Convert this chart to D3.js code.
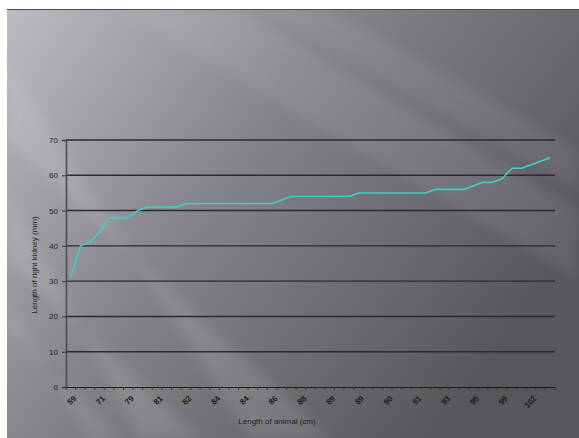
<!DOCTYPE html>
<html><head><meta charset="utf-8">
<script src="https://cdn.jsdelivr.net/npm/d3@7"></script>
<style>html,body{margin:0;padding:0;background:#fff;}svg{display:block;}</style>
</head><body>
<svg id="chart" width="579" height="438"></svg>
<script>
const animalLength = [59,63,68,71,74,77,79,80,80,81,81,82,82,83,83,84,84,84,84,85,85,86,87,87,88,88,88,89,89,89,89,90,90,90,90,91,91,92,92,93,94,94,95,96,97,99,100,101,102,103,105];
const kidneyLength = [31,40,41,44,48,48,48,50,51,51,51,51,52,52,52,52,52,52,52,52,52,52,53,54,54,54,54,54,54,54,55,55,55,55,55,55,55,55,56,56,56,56,57,58,58,59,62,62,63,64,65];
const yTicks = [0,10,20,30,40,50,60,70];
const labelEvery = 3;

(function(){
const svg = d3.select("#chart");
const W = 579, H = 438;
const defs = svg.append("defs");
const g1 = defs.append("linearGradient").attr("id","bg").attr("x1","0").attr("y1","0").attr("x2","1").attr("y2","0.55");
g1.append("stop").attr("offset","0").attr("stop-color","#bdbbc1");
g1.append("stop").attr("offset","0.45").attr("stop-color","#858489");
g1.append("stop").attr("offset","1").attr("stop-color","#57565b");
defs.append("filter").attr("id","blur").append("feGaussianBlur").attr("stdDeviation","6");

svg.append("rect").attr("x",7).attr("y",9).attr("width",W-7).attr("height",H-9).attr("fill","url(#bg)");
svg.append("line").attr("x1",7).attr("x2",W).attr("y1",9.5).attr("y2",9.5).attr("stroke","#4a494d").attr("stroke-width",1);

const clip = defs.append("clipPath").attr("id","frame");
clip.append("rect").attr("x",7).attr("y",9).attr("width",W-7).attr("height",H-9);
const streaks = svg.append("g").attr("clip-path","url(#frame)");
const bands = [
  {p:[[7,60],[7,140],[330,438],[250,438]], o:0.10},
  {p:[[7,190],[7,260],[200,438],[140,438]], o:0.10},
  {p:[[120,9],[240,9],[579,210],[579,280]], o:0.07},
  {p:[[260,9],[330,9],[579,150],[579,190]], o:0.06},
  {p:[[7,300],[7,330],[120,438],[90,438]], o:0.08}
];
streaks.selectAll("path.streak").data(bands).join("path")
  .attr("d", d => "M" + d.p.map(q => q.join(",")).join("L") + "Z")
  .attr("fill","#ffffff").attr("opacity", d => d.o).attr("filter","url(#blur)");

const pl = 66, pr = 555, pt = 140, pb = 387;
const x = d3.scaleBand().domain(d3.range(animalLength.length)).range([pl, pr]).padding(0);
const y = d3.scaleLinear().domain([0,70]).range([pb, pt]);

svg.append("g").selectAll("line").data(yTicks.filter(v => v > 0)).join("line")
  .attr("x1", pl).attr("x2", pr)
  .attr("y1", d => y(d)).attr("y2", d => y(d))
  .attr("stroke","#2b2a2e").attr("stroke-width",1.4);

const yAxis = svg.append("g").attr("transform",`translate(${pl},0)`)
  .call(d3.axisLeft(y).tickValues(yTicks).tickSize(4).tickPadding(4));
yAxis.select(".domain").attr("stroke","#4d4c50").attr("stroke-width",1.6);
yAxis.selectAll(".tick line").attr("stroke","#333");
yAxis.selectAll("text").attr("fill","#1e1e1e").style("font-family","Liberation Sans, Arial, sans-serif").style("font-size","8px");

const xAxis = svg.append("g").attr("transform",`translate(0,${pb})`)
  .call(d3.axisBottom(x).tickSize(0).tickFormat(""));
xAxis.select(".domain").attr("stroke","#1e1e1e").attr("stroke-width",1.2);
xAxis.selectAll(".tick").remove();
const bounds = d3.range(animalLength.length + 1).map(i => pl + i * x.bandwidth());
svg.append("g").selectAll("line").data(bounds).join("line")
  .attr("x1", d => d).attr("x2", d => d).attr("y1", pb).attr("y2", pb + 3)
  .attr("stroke","#333").attr("stroke-width",1);
const labelIdx = d3.range(0, animalLength.length, labelEvery);
svg.append("g").selectAll("text").data(labelIdx).join("text")
  .attr("transform", i => `translate(${x(i) + x.bandwidth()/2 + 4},${pb + 10}) rotate(-45)`)
  .attr("text-anchor","end").attr("dy","0.35em")
  .attr("fill","#1a1a1a").style("font-family","Liberation Sans, Arial, sans-serif")
  .style("font-size","8px").style("font-weight","bold")
  .text(i => animalLength[i]);

svg.append("text").attr("x",277).attr("y",424).attr("text-anchor","middle")
  .attr("fill","#1e1e1e").style("font-family","Liberation Sans, Arial, sans-serif").style("font-size","8px")
  .text("Length of animal (cm)");
svg.append("text").attr("transform","translate(37,265) rotate(-90)").attr("text-anchor","middle")
  .attr("fill","#1e1e1e").style("font-family","Liberation Sans, Arial, sans-serif").style("font-size","8px")
  .text("Length of right kidney (mm)");

const line = d3.line().x((d,i) => x(i) + x.bandwidth()/2).y(d => y(d));
svg.append("path").datum(kidneyLength).attr("d", line)
  .attr("fill","none").attr("stroke","#3fcfc4").attr("stroke-width",1.6).attr("stroke-linejoin","round");
})();
</script>
</body></html>
